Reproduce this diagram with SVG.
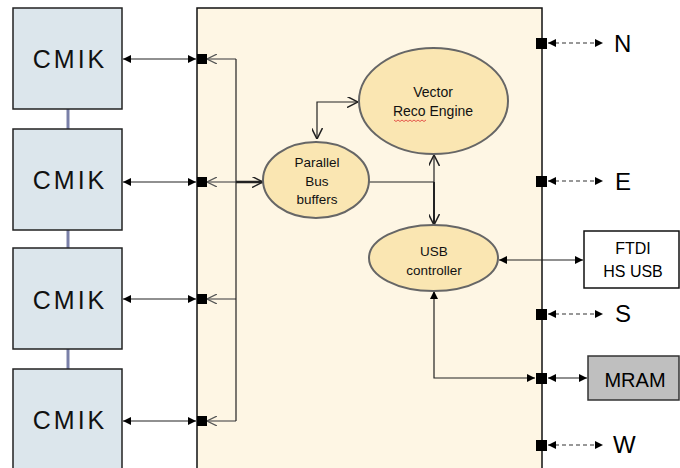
<svg xmlns="http://www.w3.org/2000/svg" width="680" height="468" viewBox="0 0 680 468">
<defs>
<marker id="fa" viewBox="0 0 10 10" refX="10" refY="5" markerWidth="8" markerHeight="8" markerUnits="userSpaceOnUse" orient="auto-start-reverse">
<path d="M0,0 L10,5 L0,10 Z" fill="#000"/>
</marker>
<marker id="ov" viewBox="0 0 10 10" refX="10" refY="5" markerWidth="10" markerHeight="10" markerUnits="userSpaceOnUse" orient="auto-start-reverse">
<path d="M0,0 L10,5 L0,10" fill="none" stroke="#555" stroke-width="1.2"/>
</marker>
<marker id="ob" viewBox="0 0 10 10" refX="10" refY="5" markerWidth="11" markerHeight="11" markerUnits="userSpaceOnUse" orient="auto-start-reverse">
<path d="M0,0 L10,5 L0,10" fill="none" stroke="#222" stroke-width="1.4"/>
</marker>
</defs>
<style>
.cmik{fill:#DCE6EC;stroke:#222;stroke-width:1.5}
.cmt{font-family:"Liberation Sans",Arial,sans-serif;font-size:25px;letter-spacing:3px;fill:#111;text-anchor:middle}
.ell{fill:#FAE6B2;stroke:#666;stroke-width:2}
.et{font-family:"Liberation Sans",Arial,sans-serif;font-size:13.5px;fill:#111;text-anchor:middle}
.port{fill:#000}
.dir{font-family:"Liberation Sans",Arial,sans-serif;font-size:24px;fill:#000}
.ln{fill:none;stroke:#222;stroke-width:1.2}
.bus{fill:none;stroke:#555;stroke-width:1.2}
.dash{fill:none;stroke:#333;stroke-width:1.2;stroke-dasharray:4 3}
.link{fill:none;stroke:#7A80A8;stroke-width:3}
</style>
<rect width="680" height="468" fill="#fff"/>
<g id="frame">
<rect x="197" y="8" width="345" height="472" fill="#FEF6E4" stroke="#111" stroke-width="1.5"/>
</g>
<g id="connectors">
<line class="link" x1="68" y1="109" x2="68" y2="129"/>
<line class="link" x1="68" y1="230" x2="68" y2="248"/>
<line class="link" x1="68" y1="340" x2="68" y2="369"/>
<line class="ln" x1="123" y1="59" x2="196" y2="59" marker-start="url(#fa)" marker-end="url(#fa)"/>
<line class="ln" x1="123" y1="182" x2="196" y2="182" marker-start="url(#fa)" marker-end="url(#fa)"/>
<line class="ln" x1="123" y1="299" x2="196" y2="299" marker-start="url(#fa)" marker-end="url(#fa)"/>
<line class="ln" x1="123" y1="421" x2="196" y2="421" marker-start="url(#fa)" marker-end="url(#fa)"/>
<path class="bus" d="M236,59 H207" marker-end="url(#ov)"/>
<path class="bus" d="M236,182 H207" marker-end="url(#ov)"/>
<path class="bus" d="M236,299 H207" marker-end="url(#ov)"/>
<path class="bus" d="M236,421 H207" marker-end="url(#ov)"/>
<line class="ln" x1="236" y1="59" x2="236" y2="421"/>
<path d="M236,182 H263" fill="none" stroke="#222" stroke-width="2.5" marker-end="url(#ob)"/>
<path class="ln" d="M317,139 V102 H358" marker-start="url(#ob)" marker-end="url(#ob)"/>
<path class="ln" d="M369,182 H434"/>
<path class="ln" d="M434,182 V155" marker-end="url(#ob)"/>
<path d="M434,182 V225" fill="none" stroke="#222" stroke-width="2" marker-end="url(#ob)"/>
<line class="ln" x1="499" y1="260" x2="583" y2="260" marker-start="url(#fa)" marker-end="url(#fa)"/>
<path class="ln" d="M434,291 V378 H535" marker-start="url(#fa)" marker-end="url(#fa)"/>
<line class="ln" x1="548" y1="378" x2="587" y2="378" marker-start="url(#fa)" marker-end="url(#fa)"/>
<line class="dash" x1="548" y1="43" x2="603" y2="43" marker-start="url(#fa)" marker-end="url(#fa)"/>
<line class="dash" x1="548" y1="181" x2="603" y2="181" marker-start="url(#fa)" marker-end="url(#fa)"/>
<line class="dash" x1="548" y1="314" x2="603" y2="314" marker-start="url(#fa)" marker-end="url(#fa)"/>
<line class="dash" x1="548" y1="445" x2="603" y2="445" marker-start="url(#fa)" marker-end="url(#fa)"/>
</g>
<g id="ports">
<rect class="port" x="197" y="54" width="10" height="10"/>
<rect class="port" x="197" y="177" width="10" height="10"/>
<rect class="port" x="197" y="294" width="10" height="10"/>
<rect class="port" x="197" y="416" width="10" height="10"/>
<rect class="port" x="536" y="38" width="11" height="11"/>
<rect class="port" x="536" y="176" width="11" height="11"/>
<rect class="port" x="536" y="309" width="11" height="11"/>
<rect class="port" x="536" y="373" width="11" height="11"/>
<rect class="port" x="536" y="440" width="11" height="11"/>
</g>
<g id="cmik1"><rect class="cmik" x="13" y="8" width="109" height="101"/><text class="cmt" x="70" y="68">CMIK</text></g>
<g id="cmik2"><rect class="cmik" x="13" y="129" width="109" height="101"/><text class="cmt" x="70" y="189">CMIK</text></g>
<g id="cmik3"><rect class="cmik" x="13" y="248" width="109" height="101"/><text class="cmt" x="70" y="309">CMIK</text></g>
<g id="cmik4"><rect class="cmik" x="13" y="369" width="109" height="101"/><text class="cmt" x="70" y="429">CMIK</text></g>
<g id="parallel-bus">
<ellipse class="ell" cx="316" cy="180" rx="53" ry="38"/>
<text class="et" x="317" y="167">Parallel</text>
<text class="et" x="317" y="186">Bus</text>
<text class="et" x="317" y="204">buffers</text>
</g>
<g id="vector-reco">
<ellipse class="ell" cx="433.5" cy="101" rx="74.5" ry="53"/>
<text class="et" x="433" y="97" style="font-size:14px">Vector</text>
<text class="et" x="433" y="116" style="font-size:14px">Reco Engine</text>
<path d="M394,120 l2,1.5 l2,-1.5 l2,1.5 l2,-1.5 l2,1.5 l2,-1.5 l2,1.5 l2,-1.5 l2,1.5 l2,-1.5 l2,1.5 l2,-1.5 l2,1.5 l2,-1.5 l2,1.5 l2,-1.5" fill="none" stroke="#E03030" stroke-width="0.8"/>
</g>
<g id="usb-controller">
<ellipse class="ell" cx="433.5" cy="258" rx="64.5" ry="33"/>
<text class="et" x="434" y="256">USB</text>
<text class="et" x="434" y="275">controller</text>
</g>
<g id="ftdi">
<rect x="584" y="231" width="95" height="57" fill="#fff" stroke="#111" stroke-width="1.5"/>
<text x="633" y="254" font-family="Liberation Sans, Arial, sans-serif" font-size="16" text-anchor="middle">FTDI</text>
<text x="633" y="277" font-family="Liberation Sans, Arial, sans-serif" font-size="16" text-anchor="middle">HS USB</text>
</g>
<g id="mram">
<rect x="588" y="356" width="91" height="44" fill="#BFBFBF" stroke="#333" stroke-width="1.5"/>
<text x="635" y="387" font-family="Liberation Sans, Arial, sans-serif" font-size="20" text-anchor="middle">MRAM</text>
</g>
<g id="labels">
<text class="dir" x="614" y="52">N</text>
<text class="dir" x="615" y="190">E</text>
<text class="dir" x="615" y="322">S</text>
<text class="dir" x="613" y="453">W</text>
</g>
</svg>
